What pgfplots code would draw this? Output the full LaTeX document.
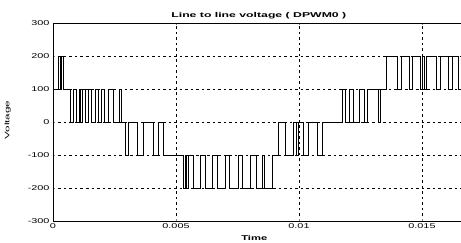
\documentclass[border=0pt]{standalone}
\usepackage{fontspec}
\setmainfont{Liberation Sans}
\newfontfamily\widefont[FakeStretch=1.55]{Liberation Sans}
\newfontfamily\yfont[FakeStretch=1.8]{Liberation Sans}
\newfontfamily\titlefont[FakeStretch=1.75]{Liberation Sans Bold}
\newfontfamily\labelfont[FakeStretch=1.6]{Liberation Sans Bold}
\usepackage{pgfplots}
\pgfplotsset{compat=1.18}
\begin{document}
\begin{tikzpicture}
\path[use as bounding box] (-53pt,-22pt) rectangle (408pt,220pt);
\begin{axis}[
  at={(0,-1pt)}, anchor=south west,
  scale only axis, width=410.8pt, height=198pt,
  xmin=0, xmax=0.0167, ymin=-300, ymax=300,
  xtick={0,0.005,0.01,0.015}, xticklabels={0,0.005,0.01,0.015},
  ytick={-300,-200,-100,0,100,200,300},
  yticklabels={-300,-200,-100,0,100,200,300},
  scaled x ticks=false,
  /pgf/number format/assume math mode=true,
  tick label style={font=\widefont\fontsize{7}{8}\selectfont},
  xticklabel style={yshift=0.5pt},
  yticklabel style={xshift=0pt},
  tick align=inside, major tick length=2pt,
  grid=major,
  major grid style={black, line width=0.4pt, dash pattern=on 2.5pt off 3pt},
  axis line style={black, line width=0.6pt},
  clip mode=individual,
]
\addplot[const plot mark left, black, line width=0.6pt, mark=none] coordinates {
(0,100)
(0.000203,200)(0.000285,100)(0.000325,200)(0.000407,100)
(0.000691,0)(0.000813,100)(0.000935,0)(0.001057,100)(0.001098,0)(0.001179,100)
(0.001301,0)(0.001423,100)(0.001545,0)(0.001707,100)(0.001829,0)(0.001951,100)
(0.002073,0)(0.002236,100)(0.002439,0)(0.002683,100)(0.002764,0)
(0.002927,-100)(0.003049,0)(0.003415,-100)(0.003659,0)(0.004065,-100)(0.004268,0)(0.004472,-100)
(0.005285,-200)(0.005366,-100)(0.005407,-200)(0.005488,-100)(0.005691,-200)(0.005976,-100)
(0.006179,-200)(0.006463,-100)(0.006667,-200)(0.006992,-100)(0.007154,-200)(0.007520,-100)
(0.007683,-200)(0.008008,-100)(0.008252,-200)(0.008496,-100)(0.008577,-200)(0.008902,-100)
(0.009146,0)(0.009431,-100)(0.009756,0)(0.009878,-100)(0.009959,0)(0.010163,-100)
(0.010366,0)(0.010732,-100)(0.010935,0)
(0.011748,100)(0.011870,0)(0.012033,100)(0.012195,0)(0.012439,100)(0.012642,0)
(0.012764,100)(0.013211,0)(0.013293,100)
(0.013537,200)(0.013984,100)(0.014146,200)(0.014472,100)(0.014593,200)(0.014919,100)
(0.015000,200)(0.015081,100)(0.015163,200)(0.015569,100)(0.015732,200)(0.016057,100)
(0.016220,200)(0.016463,100)(0.016585,200)(0.0167,200)
};
\node[anchor=center, font=\titlefont\fontsize{7}{8}\selectfont, inner sep=0pt] at (axis description cs:0.501,1.038) {Line to line voltage ( DPWM0 )};
\node[anchor=center, font=\labelfont\fontsize{7}{8}\selectfont, inner sep=0pt] at (axis description cs:0.49,-0.087) {Time};
\node[anchor=center, rotate=90, font=\yfont\fontsize{6.5}{7}\selectfont, inner sep=0pt] at (axis description cs:-0.11,0.51) {Voltage};
\end{axis}
\end{tikzpicture}
\end{document}
